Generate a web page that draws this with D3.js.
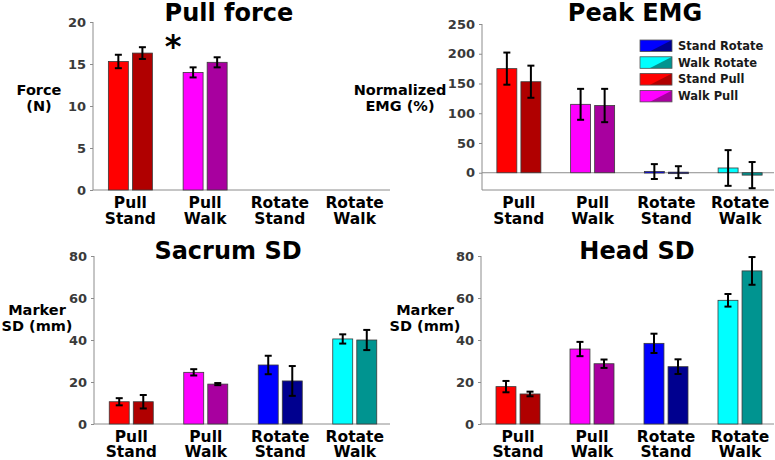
<!DOCTYPE html>
<html><head><meta charset="utf-8">
<script src="https://cdn.jsdelivr.net/npm/d3@7"></script>
<style>body{margin:0;background:#fff}svg{display:block}text{font-family:"DejaVu Sans",sans-serif}</style>
</head><body>
<svg id="c" width="775" height="460"></svg>
<script>
const categories = [["Pull","Stand"],["Pull","Walk"],["Rotate","Stand"],["Rotate","Walk"]];
const lightColors = ["#ff0000","#ff00ff","#0000ff","#00ffff"];
const darkColors  = ["#b00000","#a8009f","#00008f","#009490"];

// [bar1, bar2] per category, with error half-widths
const forceVals = [[15.3,16.3],[14.0,15.2],[null,null],[null,null]];
const forceErr  = [[0.8,0.7],[0.6,0.6],[0,0],[0,0]];
const emgVals = [[175,153],[115,113],[2,1],[8,-4]];
const emgErr  = [[27,27],[26,28],[12.5,10],[30,22]];
const sacrumVals = [[10.6,10.6],[24.6,19.0],[28.1,20.5],[40.5,40.0]];
const sacrumErr  = [[1.7,3.2],[1.5,0.5],[4.4,7.1],[2.2,4.8]];
const headVals = [[17.8,14.3],[35.7,28.7],[38.4,27.3],[58.9,72.9]];
const headErr  = [[2.7,1.1],[3.4,2.0],[4.6,3.5],[3.0,6.6]];

const forceTicks = [0,5,10,15,20];
const emgTicks = [0,50,100,150,200,250];
const sdTicks = [0,20,40,60,80];
const legendLabels = ["Stand Rotate","Walk Rotate","Stand Pull","Walk Pull"];
const legendIdx = [2,3,0,1];

const svg = d3.select("#c");

function panel(o){
  const g = svg.append("g");
  const x = d3.scaleBand().domain(d3.range(4)).range([o.x0,o.x1]).padding(0);
  const y = d3.scaleLinear().domain(o.domain).range([o.yb,o.yt]);
  const sub = d3.scaleBand().domain([0,1]).range([-22,22]).paddingInner(0.17);
  const ya = d3.axisLeft(y).tickValues(o.ticks).tickSize(3).tickPadding(4);
  const ag = g.append("g").attr("transform",`translate(${o.x0},0)`).call(ya);
  ag.select(".domain").attr("stroke","#8c8c8c").attr("d",`M0,${o.yt}V${o.yb}`);
  ag.selectAll(".tick line").attr("stroke","#8c8c8c");
  ag.selectAll(".tick text").attr("fill","#3a3a3a").attr("font-size",13).attr("font-weight","bold")
    .attr("font-family","'DejaVu Sans',sans-serif");
  g.append("line").attr("x1",o.x0).attr("x2",o.xEnd).attr("y1",o.yb).attr("y2",o.yb).attr("stroke","#8c8c8c");
  if (o.zeroLine){
    g.append("line").attr("x1",o.x0).attr("x2",o.xEnd).attr("y1",y(0)).attr("y2",y(0)).attr("stroke","#8c8c8c");
  }
  o.vals.forEach((pair,i)=>{
    pair.forEach((v,j)=>{
      if (v===null) return;
      const cx = x(i)+x.bandwidth()/2+sub(j);
      const y0 = y(0), y1 = y(v);
      g.append("rect").attr("x",cx).attr("width",sub.bandwidth())
        .attr("y",Math.min(y0,y1)).attr("height",Math.max(1.5,Math.abs(y0-y1)))
        .attr("fill", j===0?lightColors[i]:darkColors[i]).attr("stroke","#3a3a3a").attr("stroke-width",0.8);
      const e = o.err[i][j];
      if (e>0){
        const mx = cx+sub.bandwidth()/2;
        const eg = g.append("g").attr("stroke","#000").attr("stroke-width",2);
        eg.append("line").attr("x1",mx).attr("x2",mx).attr("y1",y(v-e)).attr("y2",y(v+e));
        eg.append("line").attr("x1",mx-3.5).attr("x2",mx+3.5).attr("y1",y(v-e)).attr("y2",y(v-e));
        eg.append("line").attr("x1",mx-3.5).attr("x2",mx+3.5).attr("y1",y(v+e)).attr("y2",y(v+e));
      }
    });
  });
  categories.forEach((c,i)=>{
    const cx = x(i)+x.bandwidth()/2;
    const t = g.append("text").attr("text-anchor","middle").attr("font-size",15.5).attr("font-weight","bold").attr("fill","#000");
    t.append("tspan").attr("x",cx).attr("y",o.yb+17.5).text(c[0]);
    t.append("tspan").attr("x",cx).attr("y",o.yb+17.5+o.lineGap).text(c[1]);
  });
  g.append("text").attr("x",o.titleX).attr("y",o.titleY).attr("text-anchor","middle")
    .attr("font-size",24).attr("font-weight","bold").text(o.title);
  const yl = g.append("text").attr("text-anchor","middle").attr("font-size",14.5).attr("font-weight","bold");
  o.ylab.forEach((s,k)=>yl.append("tspan").attr("x",o.ylx).attr("y",o.yly+k*16).text(s));
  return {g,x,y};
}

panel({x0:93,x1:392,xEnd:390,yt:22,yb:190,domain:[0,20],ticks:forceTicks,vals:forceVals,err:forceErr,lineGap:16,
  title:"Pull force",titleX:229,titleY:21,ylab:["Force","(N)"],ylx:39,yly:95});
panel({x0:482,x1:777,xEnd:774,yt:24,yb:190,domain:[-29,250],ticks:emgTicks,vals:emgVals,err:emgErr,zeroLine:true,lineGap:16,
  title:"Peak EMG",titleX:635,titleY:21,ylab:["Normalized","EMG (%)"],ylx:400,yly:95});
panel({x0:94,x1:392,xEnd:390,yt:256,yb:424,domain:[0,80],ticks:sdTicks,vals:sacrumVals,err:sacrumErr,lineGap:15,
  title:"Sacrum SD",titleX:228,titleY:259,ylab:["Marker","SD (mm)"],ylx:37,yly:315});
panel({x0:481,x1:777,xEnd:774,yt:256,yb:424,domain:[0,80],ticks:sdTicks,vals:headVals,err:headErr,lineGap:15,
  title:"Head SD",titleX:637,titleY:259,ylab:["Marker","SD (mm)"],ylx:425,yly:315});

svg.append("text").attr("x",173).attr("y",57).attr("text-anchor","middle").attr("font-size",32)
  .attr("font-weight","bold").text("*");

const lg = svg.append("g");
legendLabels.forEach((lab,k)=>{
  const ci = legendIdx[k];
  const yy = 40 + k*16.8, w = 32, h = 11.5, xx = 640;
  lg.append("rect").attr("x",xx).attr("y",yy).attr("width",w).attr("height",h).attr("fill",darkColors[ci]);
  lg.append("polygon").attr("points",`${xx},${yy} ${xx+w},${yy} ${xx+0.3*w},${yy+h} ${xx},${yy+h}`).attr("fill",lightColors[ci]);
  lg.append("rect").attr("x",xx).attr("y",yy).attr("width",w).attr("height",h).attr("fill","none").attr("stroke","#555").attr("stroke-width",0.8);
  lg.append("text").attr("x",678).attr("y",yy+h/2+4).attr("font-size",11.5).attr("font-weight","bold").attr("fill","#1a1a1a").text(lab);
});
</script>
</body></html>
